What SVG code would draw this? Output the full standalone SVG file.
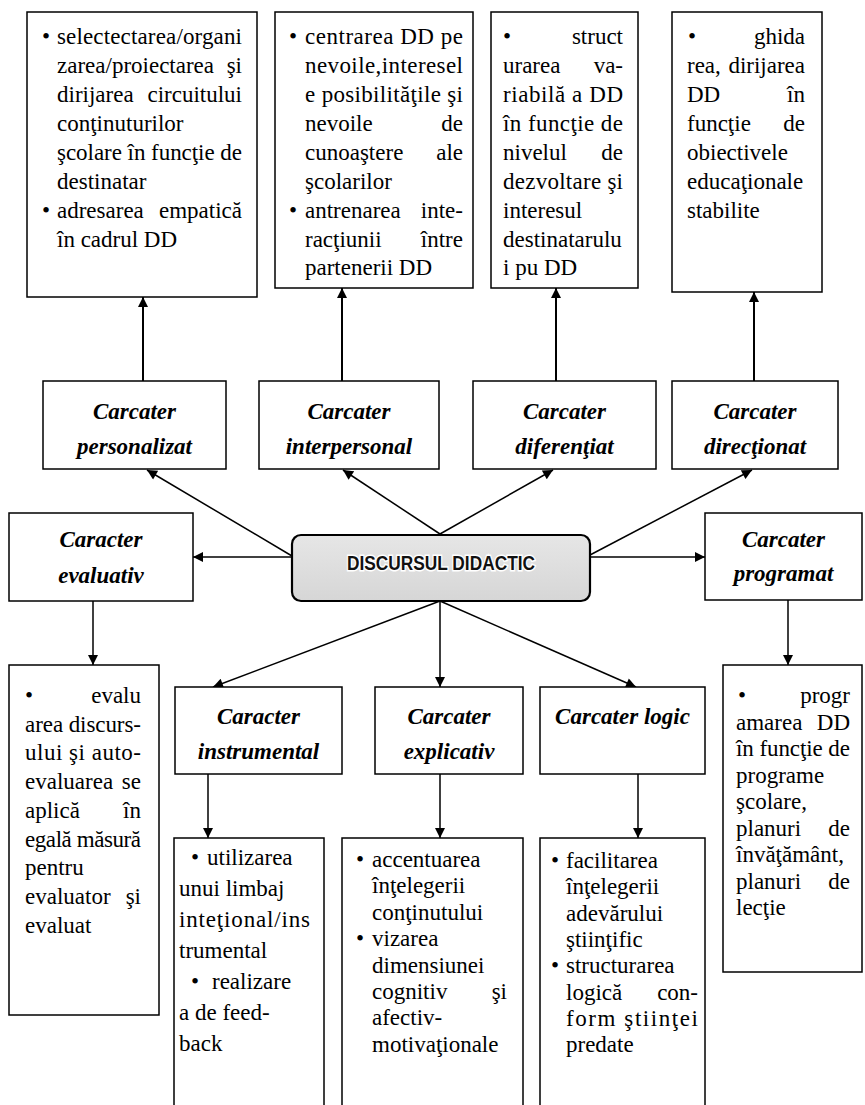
<svg xmlns="http://www.w3.org/2000/svg" width="865" height="1105" viewBox="0 0 865 1105">
  <defs>
    <style>
      .box { fill: #fff; stroke: #000; stroke-width: 1.5; }
      .t { font-size: 23px; fill: #000; }
      .e { text-anchor: end; }
      .b { text-anchor: middle; }
      .lbl { font-style: italic; font-weight: bold; font-size: 23px; text-anchor: middle; fill: #000; }
      .link { fill: none; stroke: #000; stroke-width: 1.5; marker-end: url(#arrow); }
      .up { stroke-width: 2; }
    </style>
    <marker id="arrow" viewBox="0 0 10 10" refX="10" refY="5" markerWidth="11" markerHeight="10" markerUnits="userSpaceOnUse" orient="auto">
      <path d="M0,0 L10,5 L0,10 z" fill="#000"/>
    </marker>
    <linearGradient id="centerFill" x1="0" y1="0" x2="0" y2="1">
      <stop offset="0" stop-color="#e6e6e6"/>
      <stop offset="1" stop-color="#d6d6d6"/>
    </linearGradient>
  </defs>

  <!-- connectors -->
  <g id="connectors">
    <line class="link up" x1="143" y1="381" x2="143" y2="297"/>
    <line class="link up" x1="342" y1="381" x2="342" y2="288"/>
    <line class="link up" x1="556" y1="381" x2="556" y2="288"/>
    <line class="link up" x1="754" y1="381" x2="754" y2="292"/>
    <line class="link" x1="292" y1="556" x2="147" y2="470"/>
    <line class="link" x1="440" y1="534" x2="343" y2="470"/>
    <line class="link" x1="440" y1="534" x2="553" y2="470"/>
    <line class="link" x1="590" y1="555" x2="752" y2="470"/>
    <line class="link" x1="292" y1="557" x2="193" y2="557"/>
    <line class="link" x1="590" y1="557" x2="705" y2="557"/>
    <line class="link" x1="440" y1="601" x2="213" y2="687"/>
    <line class="link" x1="440" y1="601" x2="440" y2="687"/>
    <line class="link" x1="440" y1="601" x2="636" y2="687"/>
    <line class="link" x1="93" y1="601" x2="93" y2="665"/>
    <line class="link" x1="788" y1="600" x2="788" y2="665"/>
    <line class="link" x1="208" y1="774" x2="208" y2="838"/>
    <line class="link" x1="440" y1="774" x2="440" y2="838"/>
    <line class="link" x1="638" y1="774" x2="638" y2="838"/>
  </g>

  <!-- central node -->
  <g id="discursul-didactic">
    <rect x="292" y="535" width="298" height="66" rx="9" fill="url(#centerFill)" stroke="#000" stroke-width="2.2"/>
    <text x="441" y="570" font-family="Liberation Sans, Arial, sans-serif" font-weight="bold" font-size="21" text-anchor="middle" textLength="188" lengthAdjust="spacingAndGlyphs" fill="#111" stroke="#fff" stroke-width="3" paint-order="stroke">DISCURSUL DIDACTIC</text>
  </g>

  <g font-family="Liberation Serif, Times New Roman, serif">
  <!-- top description boxes -->
  <g id="desc-personalizat">
    <rect class="box" x="27" y="12" width="230" height="285"/>
    <text class="t b" x="46" y="44">•</text>
    <text class="t" x="57" y="44" textLength="185">selectectarea/organi</text>
    <text class="t" x="57" y="73">zarea/proiectarea</text><text class="t e" x="242" y="73">şi</text>
    <text class="t" x="57" y="102">dirijarea</text><text class="t e" x="242" y="102">circuitului</text>
    <text class="t" x="57" y="131">conţinuturilor</text>
    <text class="t" x="57" y="160" textLength="185">şcolare în funcţie de</text>
    <text class="t" x="57" y="189">destinatar</text>
    <text class="t b" x="46" y="218">•</text>
    <text class="t" x="57" y="218">adresarea</text><text class="t e" x="242" y="218">empatică</text>
    <text class="t" x="57" y="247">în cadrul DD</text>
  </g>

  <g id="desc-interpersonal">
    <rect class="box" x="275" y="12" width="198" height="276"/>
    <text class="t b" x="293" y="44">•</text>
    <text class="t" x="305" y="44" textLength="158">centrarea DD pe</text>
    <text class="t" x="305" y="73" textLength="158">nevoile,interesel</text>
    <text class="t" x="305" y="102" textLength="158">e posibilităţile şi</text>
    <text class="t" x="305" y="131">nevoile</text><text class="t e" x="463" y="131">de</text>
    <text class="t" x="305" y="160">cunoaştere</text><text class="t e" x="463" y="160">ale</text>
    <text class="t" x="305" y="189">şcolarilor</text>
    <text class="t b" x="293" y="218">•</text>
    <text class="t" x="305" y="218">antrenarea</text><text class="t e" x="463" y="218">inte-</text>
    <text class="t" x="305" y="247">racţiunii</text><text class="t e" x="463" y="247">între</text>
    <text class="t" x="305" y="275">partenerii DD</text>
  </g>

  <g id="desc-diferentiat">
    <rect class="box" x="491" y="12" width="147" height="276"/>
    <text class="t b" x="507" y="44">•</text><text class="t e" x="623" y="44">struct</text>
    <text class="t" x="503" y="73">urarea</text><text class="t e" x="623" y="73">va-</text>
    <text class="t" x="503" y="102" textLength="120">riabilă a DD</text>
    <text class="t" x="503" y="131" textLength="120">în funcţie de</text>
    <text class="t" x="503" y="160">nivelul</text><text class="t e" x="623" y="160">de</text>
    <text class="t" x="503" y="189" textLength="120">dezvoltare şi</text>
    <text class="t" x="503" y="218">interesul</text>
    <text class="t" x="503" y="247">destinatarulu</text>
    <text class="t" x="503" y="275">i pu DD</text>
  </g>

  <g id="desc-directionat">
    <rect class="box" x="672" y="12" width="150" height="280"/>
    <text class="t b" x="692" y="44">•</text><text class="t e" x="805" y="44">ghida</text>
    <text class="t" x="687" y="73">rea,</text><text class="t e" x="805" y="73">dirijarea</text>
    <text class="t" x="687" y="102">DD</text><text class="t e" x="805" y="102">în</text>
    <text class="t" x="687" y="131">funcţie</text><text class="t e" x="805" y="131">de</text>
    <text class="t" x="687" y="160">obiectivele</text>
    <text class="t" x="687" y="189">educaţionale</text>
    <text class="t" x="687" y="218">stabilite</text>
  </g>

  <!-- characteristic nodes, upper row -->
  <g id="personalizat">
    <rect class="box" x="43" y="381" width="183" height="88"/>
    <text class="lbl" x="134.5" y="419">Carcater</text>
    <text class="lbl" x="134.5" y="454">personalizat</text>
  </g>
  <g id="interpersonal">
    <rect class="box" x="259" y="381" width="180" height="88"/>
    <text class="lbl" x="349" y="419">Carcater</text>
    <text class="lbl" x="349" y="454">interpersonal</text>
  </g>
  <g id="diferentiat">
    <rect class="box" x="473" y="381" width="183" height="88"/>
    <text class="lbl" x="564.5" y="419">Carcater</text>
    <text class="lbl" x="564.5" y="454">diferenţiat</text>
  </g>
  <g id="directionat">
    <rect class="box" x="672" y="381" width="166" height="88"/>
    <text class="lbl" x="755" y="419">Carcater</text>
    <text class="lbl" x="755" y="454">direcţionat</text>
  </g>

  <!-- side nodes -->
  <g id="evaluativ">
    <rect class="box" x="9" y="513" width="184" height="88"/>
    <text class="lbl" x="101" y="547">Caracter</text>
    <text class="lbl" x="101" y="583">evaluativ</text>
  </g>
  <g id="programat">
    <rect class="box" x="705" y="513" width="157" height="87"/>
    <text class="lbl" x="783.5" y="547">Carcater</text>
    <text class="lbl" x="783.5" y="581">programat</text>
  </g>

  <!-- lower row -->
  <g id="instrumental">
    <rect class="box" x="175" y="687" width="167" height="87"/>
    <text class="lbl" x="258.5" y="724">Caracter</text>
    <text class="lbl" x="258.5" y="759">instrumental</text>
  </g>
  <g id="explicativ">
    <rect class="box" x="375" y="687" width="148" height="87"/>
    <text class="lbl" x="449" y="724">Carcater</text>
    <text class="lbl" x="449" y="759">explicativ</text>
  </g>
  <g id="logic">
    <rect class="box" x="540" y="687" width="165" height="87"/>
    <text class="lbl" x="622.5" y="724">Carcater logic</text>
  </g>

  <!-- lower description boxes -->
  <g id="desc-evaluativ">
    <rect class="box" x="9" y="665" width="150" height="350"/>
    <text class="t b" x="29" y="703">•</text><text class="t e" x="141" y="703">evalu</text>
    <text class="t" x="25" y="731.7" textLength="116">area discurs-</text>
    <text class="t" x="25" y="760.4" textLength="116">ului şi auto-</text>
    <text class="t" x="25" y="789.1">evaluarea</text><text class="t e" x="141" y="789.1">se</text>
    <text class="t" x="25" y="817.8">aplică</text><text class="t e" x="141" y="817.8">în</text>
    <text class="t" x="25" y="846.5" textLength="116">egală măsură</text>
    <text class="t" x="25" y="875.2">pentru</text>
    <text class="t" x="25" y="903.9">evaluator</text><text class="t e" x="141" y="903.9">şi</text>
    <text class="t" x="25" y="932.6">evaluat</text>
  </g>

  <g id="desc-programat">
    <rect class="box" x="723" y="665" width="139" height="307"/>
    <text class="t b" x="742" y="703">•</text><text class="t e" x="850" y="703">progr</text>
    <text class="t" x="736" y="729.5">amarea</text><text class="t e" x="850" y="729.5">DD</text>
    <text class="t" x="736" y="756" textLength="114">în funcţie de</text>
    <text class="t" x="736" y="782.5">programe</text>
    <text class="t" x="736" y="809">şcolare,</text>
    <text class="t" x="736" y="835.5">planuri</text><text class="t e" x="850" y="835.5">de</text>
    <text class="t" x="736" y="862">învăţământ,</text>
    <text class="t" x="736" y="888.5">planuri</text><text class="t e" x="850" y="888.5">de</text>
    <text class="t" x="736" y="915">lecţie</text>
  </g>

  <g id="desc-instrumental">
    <rect class="box" x="174" y="838" width="150" height="280"/>
    <text class="t b" x="195" y="865">•</text><text class="t" x="207" y="865">utilizarea</text>
    <text class="t" x="179" y="896">unui limbaj</text>
    <text class="t" x="179" y="927" textLength="131">inteţional/ins</text>
    <text class="t" x="179" y="958">trumental</text>
    <text class="t b" x="195" y="989">•</text><text class="t" x="212" y="989">realizare</text>
    <text class="t" x="179" y="1020">a de feed-</text>
    <text class="t" x="179" y="1051">back</text>
  </g>

  <g id="desc-explicativ">
    <rect class="box" x="342" y="838" width="181" height="280"/>
    <text class="t b" x="360" y="867">•</text><text class="t" x="372" y="867">accentuarea</text>
    <text class="t" x="372" y="893.4">înţelegerii</text>
    <text class="t" x="372" y="919.8">conţinutului</text>
    <text class="t b" x="360" y="946.2">•</text><text class="t" x="372" y="946.2">vizarea</text>
    <text class="t" x="372" y="972.6">dimensiunei</text>
    <text class="t" x="372" y="999">cognitiv</text><text class="t e" x="507" y="999">şi</text>
    <text class="t" x="372" y="1025.4">afectiv-</text>
    <text class="t" x="372" y="1051.8">motivaţionale</text>
  </g>

  <g id="desc-logic">
    <rect class="box" x="540" y="838" width="165" height="280"/>
    <text class="t b" x="555" y="868">•</text><text class="t" x="566" y="868">facilitarea</text>
    <text class="t" x="566" y="894.3">înţelegerii</text>
    <text class="t" x="566" y="920.6">adevărului</text>
    <text class="t" x="566" y="946.9">ştiinţific</text>
    <text class="t b" x="555" y="973.2">•</text><text class="t" x="566" y="973.2">structurarea</text>
    <text class="t" x="566" y="999.5">logică</text><text class="t e" x="698" y="999.5">con-</text>
    <text class="t" x="566" y="1025.8" textLength="132">form ştiinţei</text>
    <text class="t" x="566" y="1052.1">predate</text>
  </g>
  </g>
</svg>
